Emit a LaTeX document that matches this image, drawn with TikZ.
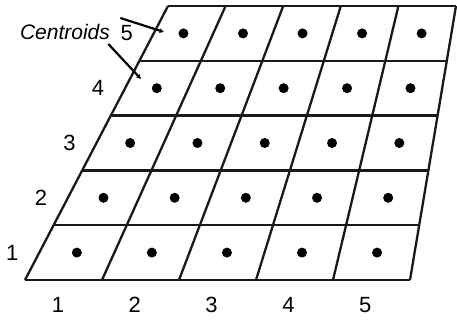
\documentclass[tikz,border=0pt]{standalone}
\usepackage{fontspec}
\setmainfont{Liberation Sans}
\usetikzlibrary{arrows.meta,calc,positioning}
\tikzset{
  gridline/.style={draw=black!90,line width=1.15pt},
  centroid/.style={fill=black},
  axislabel/.style={font=\fontsize{11}{13}\selectfont,inner sep=0pt},
  calloutlabel/.style={font=\fontsize{10.5}{12}\selectfont\itshape,inner sep=0pt},
  callout/.style={-{Stealth[length=2.4pt,width=2.4pt]},line width=1.1pt,draw=black},
}

\begin{document}
\begin{tikzpicture}[x=0.5pt,y=-0.5pt]
  \useasboundingbox (0,0) rectangle (457,321);
  % corners of the grid lines, bottom and top
  \foreach \i in {0,...,5} {
    \coordinate (b\i) at ({25+77*\i},280);
    \coordinate (t\i) at ({168+57.6*\i},6);
  }
  % slanted columns
  \foreach \i in {0,...,5}
    \draw[gridline] (b\i) -- (t\i);
  % rows
  \foreach \j in {0,...,5}
    \draw[gridline] ($(b0)!\j/5!(t0)$) -- ($(b5)!\j/5!(t5)$);
  % centroids
  \foreach \i in {0,...,4}
    \foreach \j in {0,...,4}
      \fill[centroid] ({25+77*(\i+.5)+(143-19.4*(\i+.5))*(\j+.5)/5},{280-274*(\j+.5)/5}) circle (2.5pt);
  % labels
  \foreach \i in {1,...,5}
    \node[axislabel] (col\i) at ({58+76.8*(\i-1)},305) {\i};
  \foreach \j in {1,...,5}
    \node[axislabel] (row\j) at ({25+143*(\j-.5)/5-27},{280-274*(\j-.5)/5}) {\j};
  \node[calloutlabel] (cent) at (65,32) {Centroids};
  \coordinate (c5) at (164,32);
  \coordinate (c4) at (141,79);
  \draw[callout] (cent.east) ++(10,-14) -- (c5);
  \draw[callout] ($(cent.east)+(-2,12)$) -- (c4);
\end{tikzpicture}
\end{document}
